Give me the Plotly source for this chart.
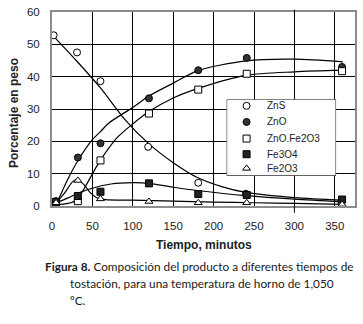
import plotly.graph_objects as go

# Measured compositions (wt %) versus roasting time (min)
t_zns = [2, 31, 60, 119, 181, 240, 358]
zns = [52.8, 47.5, 38.6, 18.3, 7.2, 3.8, 1.5]

t_meas = [5, 32, 60, 120, 181, 241, 359]
zno = [1.5, 15.0, 19.4, 33.3, 42.0, 45.8, 43.0]
zno_fe2o3 = [1.0, 1.5, 14.1, 28.6, 36.0, 40.9, 41.7]
fe3o4 = [1.3, 3.1, 4.4, 7.0, 3.7, 3.4, 2.0]
fe2o3 = [1.0, 7.9, 2.2, 1.4, 1.0, 1.0, 0.5]

# Hand-drawn trend curves (time, wt %)
zns_fit_t = [0, 30, 60, 90, 120, 150, 180, 210, 240, 300, 360]
zns_fit = [53.0, 45.0, 36.5, 26.8, 19.2, 13.4, 8.8, 6.0, 4.2, 2.6, 1.8]

zno_fit_t = [5, 20, 32, 50, 60, 70, 100, 120, 150, 180, 240, 300, 360]
zno_fit = [0.3, 8.5, 14.0, 20.5, 23.0, 25.6, 30.5, 34.0, 38.0, 41.8, 44.9, 45.4, 44.6]

znofe_fit_t = [5, 20, 30, 40, 58, 70, 80, 90, 100, 120, 150, 180, 240, 300, 360]
znofe_fit = [0.4, 0.8, 1.8, 5.5, 13.4, 17.8, 21.0, 23.3, 25.4, 29.2, 33.4, 36.3, 40.4, 41.5, 42.0]

fe3o4_fit_t = [5, 20, 35, 50, 73, 100, 120, 150, 180, 240, 300, 360]
fe3o4_fit = [1.0, 2.5, 4.2, 5.5, 6.8, 7.2, 7.0, 5.8, 4.8, 3.2, 2.1, 1.3]

fe2o3_fit_t = [5, 15, 25, 30, 38, 48, 56, 66, 100, 150, 200, 250, 300, 360]
fe2o3_fit = [1.0, 3.8, 7.4, 8.2, 7.0, 4.0, 2.5, 2.0, 1.8, 1.5, 1.2, 1.0, 0.8, 0.5]

legend_labels = ["ZnS", "ZnO", "ZnO.Fe2O3", "Fe3O4", "Fe2O3"]

x_ticks = [0, 50, 100, 150, 200, 250, 300, 350]
y_ticks = [0, 10, 20, 30, 40, 50, 60]

INK = "#000000"
FONT = "Liberation Sans, Arial, sans-serif"

styles = [
    dict(symbol="circle", size=7, color="white", line=dict(color=INK, width=1)),
    dict(symbol="circle", size=7, color="#333333", line=dict(color=INK, width=1)),
    dict(symbol="square", size=7, color="white", line=dict(color=INK, width=1)),
    dict(symbol="square", size=7, color="#222222", line=dict(color=INK, width=1)),
    dict(symbol="triangle-up", size=7, color="white", line=dict(color=INK, width=1)),
]

fig = go.Figure()

curve = dict(mode="lines", line=dict(color=INK, width=1.2, shape="spline", smoothing=0.8),
             hoverinfo="skip", showlegend=False)
for tx, ty in [(zns_fit_t, zns_fit), (zno_fit_t, zno_fit), (znofe_fit_t, znofe_fit),
               (fe3o4_fit_t, fe3o4_fit), (fe2o3_fit_t, fe2o3_fit)]:
    fig.add_trace(go.Scatter(x=tx, y=ty, **curve))

series = [(t_zns, zns), (t_meas, zno), (t_meas, zno_fe2o3), (t_meas, fe3o4), (t_meas, fe2o3)]
for (tx, ty), st, name in zip(series, styles, legend_labels):
    fig.add_trace(go.Scatter(x=tx, y=ty, mode="markers", marker=st, name=name, showlegend=False))

# Boxed key drawn on its own unit axes
row_y = [0.917, 0.705, 0.487, 0.282, 0.096]
fig.add_trace(go.Scatter(x=[0, 1, 1, 0, 0], y=[0, 0, 1, 1, 0], mode="lines", fill="toself",
                         fillcolor="white", line=dict(color=INK, width=1),
                         xaxis="x2", yaxis="y2", hoverinfo="skip", showlegend=False))
for st, ry in zip(styles, row_y):
    fig.add_trace(go.Scatter(x=[0.182], y=[ry], mode="markers", marker=st,
                             xaxis="x2", yaxis="y2", hoverinfo="skip", showlegend=False))
annotations = []
for name, ry in zip(legend_labels, row_y):
    annotations.append(dict(x=0.35, y=ry, xref="x2", yref="y2", text=name, showarrow=False,
                            xanchor="left", yanchor="middle",
                            font=dict(family=FONT, size=10, color="#222222")))

# Axis titles
annotations.append(dict(x=0.5, y=-0.2, xref="paper", yref="paper", text="<b>Tiempo, minutos</b>",
                        showarrow=False, xanchor="center", yanchor="middle",
                        font=dict(family=FONT, size=12, color="#222222")))
annotations.append(dict(x=-0.125, y=0.48, xref="paper", yref="paper", text="<b>Porcentaje en peso</b>",
                        showarrow=False, textangle=-90, xanchor="center", yanchor="middle",
                        font=dict(family=FONT, size=12, color="#222222")))

# Caption
cap_font = dict(family="Lato, sans-serif", size=11.8, color="#1a1a1a")
caption = [
    (43, 268, "<b>Figura 8.</b> Composición del producto a diferentes tiempos de"),
    (68, 285, "tostación, para una temperatura de horno de 1,050"),
    (68, 302, "ºC."),
]
for px, py, txt in caption:
    annotations.append(dict(x=(px - 52) / 305, y=(206 - py) / 198, xref="paper", yref="paper",
                            text=txt, showarrow=False, xanchor="left", yanchor="middle",
                            font=cap_font))

# The 300-minute rule runs slightly past the frame at top and bottom
shapes = [
    dict(type="line", xref="x", yref="paper", x0=300, x1=300, y0=-0.035, y1=0,
         line=dict(color=INK, width=1)),
    dict(type="line", xref="x", yref="paper", x0=300, x1=300, y0=1.0, y1=1.012,
         line=dict(color=INK, width=1)),
]

fig.update_layout(
    width=363, height=324,
    margin=dict(l=52, r=6, t=8, b=118),
    paper_bgcolor="white", plot_bgcolor="white",
    showlegend=False,
    annotations=annotations,
    shapes=shapes,
    xaxis=dict(range=[0, 375], tickvals=x_ticks, showgrid=True, gridcolor=INK, gridwidth=1,
               zeroline=False, showline=True, linecolor="#8c8c8c", linewidth=2, mirror=True,
               ticks="", ticklabelstandoff=8,
               tickfont=dict(family=FONT, size=11.5, color="#222222")),
    yaxis=dict(range=[0, 60], tickvals=y_ticks, showgrid=True, gridcolor=INK, gridwidth=1,
               zeroline=False, showline=True, linecolor="#8c8c8c", linewidth=2, mirror=True,
               ticks="", ticklabelstandoff=8,
               tickfont=dict(family=FONT, size=11.5, color="#222222")),
    xaxis2=dict(domain=[0.5764, 0.9376], range=[0, 1], visible=False, anchor="y2", fixedrange=True),
    yaxis2=dict(domain=[0.1562, 0.5491], range=[0, 1], visible=False, anchor="x2", fixedrange=True),
)

fig.write_html("out.html")
